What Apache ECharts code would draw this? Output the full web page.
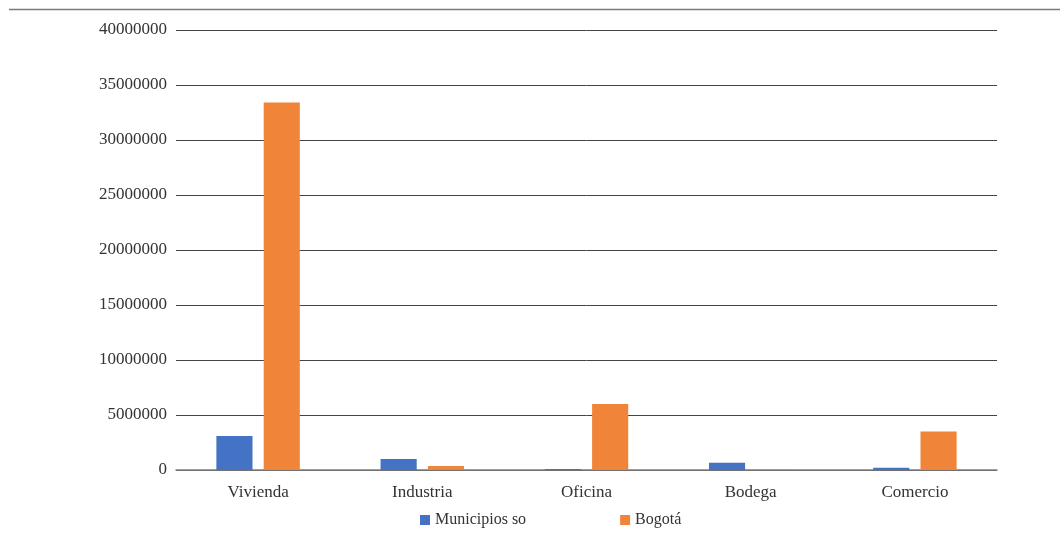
<!DOCTYPE html>
<html>
<head>
<meta charset="utf-8">
<script src="https://cdn.jsdelivr.net/npm/echarts@6/dist/echarts.min.js"></script>
<style>html,body{margin:0;padding:0;background:#fff}#c{width:1060px;height:542px}</style>
</head>
<body>
<div id="c"></div>
<script>
const categories = ['Vivienda', 'Industria', 'Oficina', 'Bodega', 'Comercio'];
const municipios = [3100000, 1000000, 80000, 660000, 200000];
const bogota = [33400000, 370000, 6000000, 100000, 3500000];
const seriesNames = ['Municipios so', 'Bogotá'];
const yTicks = { min: 0, max: 40000000, interval: 5000000 };

const font = '"Liberation Serif", "DejaVu Serif", serif';
const chart = echarts.init(document.getElementById('c'));
chart.setOption({
  animation: false,
  textStyle: { fontFamily: font },
  graphic: [{
    type: 'line', shape: { x1: 9, y1: 9.5, x2: 1060, y2: 9.5 },
    style: { stroke: '#7a7a7a', lineWidth: 1.5 }
  }],
  grid: { left: 176, right: 63, top: 30, bottom: 72 },
  legend: {
    bottom: 9, left: 415,
    itemWidth: 10, itemHeight: 10, itemGap: 94,
    icon: 'rect',
    textStyle: { fontFamily: font, fontSize: 16, color: '#333' },
    data: seriesNames
  },
  xAxis: {
    type: 'category', data: categories,
    axisLine: { lineStyle: { color: '#808080', width: 1.5 } },
    axisTick: { show: false },
    axisLabel: { fontFamily: font, fontSize: 17, color: '#333', margin: 14 }
  },
  yAxis: {
    type: 'value', min: yTicks.min, max: yTicks.max, interval: yTicks.interval,
    axisLine: { show: false }, axisTick: { show: false },
    axisLabel: { fontFamily: font, fontSize: 17, color: '#333', margin: 9,
      formatter: v => String(v) },
    splitLine: { lineStyle: { color: '#444', width: 1 } }
  },
  series: [
    { name: seriesNames[0], type: 'bar', data: municipios, barWidth: '22%', barGap: '31%',
      itemStyle: { color: '#4472C4' } },
    { name: seriesNames[1], type: 'bar', data: bogota, barWidth: '22%',
      itemStyle: { color: '#F08539' } }
  ]
});
</script>
</body>
</html>
